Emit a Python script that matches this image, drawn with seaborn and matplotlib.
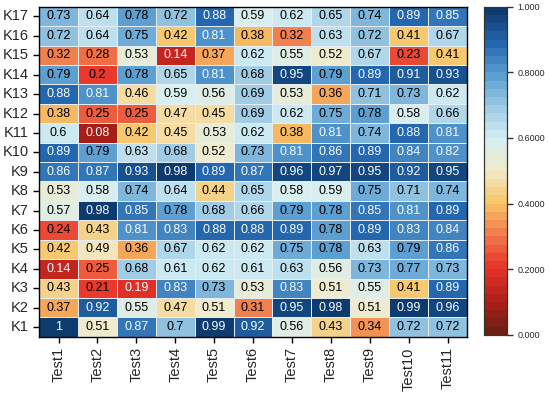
"""Heatmap of K1-K17 scores across Test1-Test11"""
import numpy as np
import pandas as pd
import seaborn as sns
from matplotlib import pyplot as plt
from matplotlib.colors import LinearSegmentedColormap

tests = [f"Test{i}" for i in range(1, 12)]
rows = [f"K{i}" for i in range(17, 0, -1)]

k17 = [0.73, 0.64, 0.78, 0.72, 0.88, 0.59, 0.62, 0.65, 0.74, 0.89, 0.85]
k16 = [0.72, 0.64, 0.75, 0.42, 0.81, 0.38, 0.32, 0.63, 0.72, 0.41, 0.67]
k15 = [0.32, 0.28, 0.53, 0.14, 0.37, 0.62, 0.55, 0.52, 0.67, 0.23, 0.41]
k14 = [0.79, 0.2, 0.78, 0.65, 0.81, 0.68, 0.95, 0.79, 0.89, 0.91, 0.93]
k13 = [0.88, 0.81, 0.46, 0.59, 0.56, 0.69, 0.53, 0.36, 0.71, 0.73, 0.62]
k12 = [0.38, 0.25, 0.25, 0.47, 0.45, 0.69, 0.62, 0.75, 0.78, 0.58, 0.66]
k11 = [0.6, 0.08, 0.42, 0.45, 0.53, 0.62, 0.38, 0.81, 0.74, 0.88, 0.81]
k10 = [0.89, 0.79, 0.63, 0.68, 0.52, 0.73, 0.81, 0.86, 0.89, 0.84, 0.82]
k9 = [0.86, 0.87, 0.93, 0.98, 0.89, 0.87, 0.96, 0.97, 0.95, 0.92, 0.95]
k8 = [0.53, 0.58, 0.74, 0.64, 0.44, 0.65, 0.58, 0.59, 0.75, 0.71, 0.74]
k7 = [0.57, 0.98, 0.85, 0.78, 0.68, 0.66, 0.79, 0.78, 0.85, 0.81, 0.89]
k6 = [0.24, 0.43, 0.81, 0.83, 0.88, 0.88, 0.89, 0.78, 0.89, 0.83, 0.84]
k5 = [0.42, 0.49, 0.36, 0.67, 0.62, 0.62, 0.75, 0.78, 0.63, 0.79, 0.86]
k4 = [0.14, 0.25, 0.68, 0.61, 0.62, 0.61, 0.63, 0.56, 0.73, 0.77, 0.73]
k3 = [0.43, 0.21, 0.19, 0.83, 0.73, 0.53, 0.83, 0.51, 0.55, 0.41, 0.89]
k2 = [0.37, 0.92, 0.55, 0.47, 0.51, 0.31, 0.95, 0.98, 0.51, 0.99, 0.96]
k1 = [1.0, 0.51, 0.87, 0.7, 0.99, 0.92, 0.56, 0.43, 0.34, 0.72, 0.72]

cbar_ticks = [0.0, 0.2, 0.4, 0.6, 0.8, 1.0]
cbar_labels = ["0.000", "0.2000", "0.4000", "0.6000", "0.8000", "1.000"]

df = pd.DataFrame(
    [k17, k16, k15, k14, k13, k12, k11, k10, k9, k8, k7, k6, k5, k4, k3, k2, k1],
    index=rows,
    columns=tests,
)

cmap = LinearSegmentedColormap.from_list(
    "rdylbu_custom",
    [
        (0.0, "#6e1f10"),
        (0.1, "#b51f1a"),
        (0.2, "#e8352a"),
        (0.3, "#f07a4c"),
        (0.4, "#f6c465"),
        (0.5, "#f3ebc9"),
        (0.6, "#d5eef3"),
        (0.7, "#9ccae4"),
        (0.8, "#5a9dd0"),
        (0.9, "#2366ad"),
        (1.0, "#0d3b6e"),
    ],
    N=40,
)

sns.set_theme(style="white")
plt.rcParams["font.family"] = ["Liberation Sans", "DejaVu Sans"]

fig = plt.figure(figsize=(5.5, 3.94), dpi=100)
ax = fig.add_axes([0.071, 0.145, 0.778, 0.838])
cax = fig.add_axes([0.880, 0.150, 0.042, 0.833])

sns.heatmap(
    df,
    ax=ax,
    cmap=cmap,
    vmin=0,
    vmax=1,
    annot=False,
    linewidths=0.5,
    linecolor="#e6eef4",
    cbar_ax=cax,
    cbar_kws={"ticks": cbar_ticks},
)

# annotate with text colour depending on cell darkness
for i, r in enumerate(rows):
    for j, t in enumerate(tests):
        v = df.loc[r, t]
        colour = "#f4fbff" if (v >= 0.8 or v < 0.2) else "black"
        ax.text(
            j + 0.5, i + 0.5, f"{v:g}",
            ha="center", va="center", fontsize=9, color=colour,
        )

for s in ax.spines.values():
    s.set_visible(True)
    s.set_color("black")
    s.set_linewidth(1.0)

ax.tick_params(axis="both", which="both", length=4, width=1, color="black",
               bottom=True, left=True, labelsize=10.5)
ax.set_xticklabels(tests, rotation=90)
ax.set_yticklabels(rows, rotation=0)
ax.set_xlabel("")
ax.set_ylabel("")

cax.set_yticklabels(cbar_labels)
cax.tick_params(axis="y", length=4, width=1, color="#333333", labelsize=6.5, right=True)
for s in cax.spines.values():
    s.set_visible(True)
    s.set_color("#333333")
    s.set_linewidth(0.8)

fig.savefig("out.png", dpi=100)
